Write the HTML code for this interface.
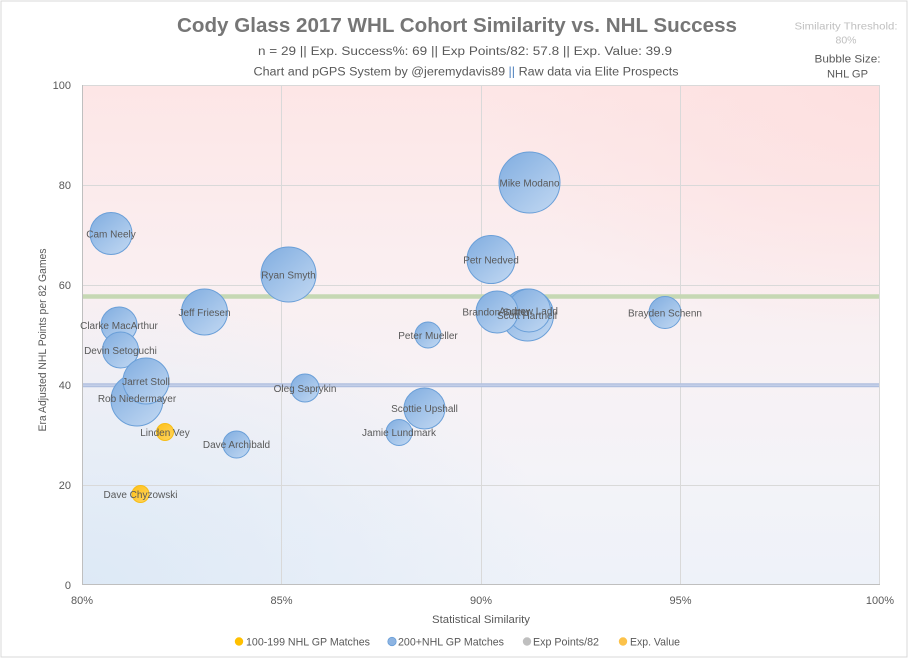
<!DOCTYPE html>
<html><head><meta charset="utf-8"><style>
html,body{margin:0;padding:0;background:#fff;}
svg{display:block;font-family:"Liberation Sans",sans-serif;}
</style></head><body>
<svg width="909" height="659" viewBox="0 0 909 659" xmlns="http://www.w3.org/2000/svg">
<defs>
<linearGradient id="bg" x1="0" y1="0" x2="0" y2="1">
<stop offset="0" stop-color="#fde6e6"/>
<stop offset="0.35" stop-color="#faeef0"/>
<stop offset="0.6" stop-color="#f7f2f5"/>
<stop offset="0.8" stop-color="#f3f3f8"/>
<stop offset="1" stop-color="#eef2f9"/>
</linearGradient>
<radialGradient id="blueTint" cx="0" cy="1" r="0.6">
<stop offset="0" stop-color="#dde9f6" stop-opacity="1"/>
<stop offset="1" stop-color="#dde9f6" stop-opacity="0"/>
</radialGradient>
<radialGradient id="pinkTint" cx="1" cy="0" r="0.5">
<stop offset="0" stop-color="#fde0e0" stop-opacity="1"/>
<stop offset="1" stop-color="#fde0e0" stop-opacity="0"/>
</radialGradient>
<linearGradient id="bub" x1="0.15" y1="0.1" x2="0.85" y2="0.9">
<stop offset="0" stop-color="#88b2e2"/>
<stop offset="1" stop-color="#bad3f0"/>
</linearGradient>
<linearGradient id="yel" x1="0.15" y1="0.1" x2="0.85" y2="0.9">
<stop offset="0" stop-color="#ffc21f"/>
<stop offset="1" stop-color="#ffd256"/>
</linearGradient>
</defs>

<rect x="1" y="1" width="906" height="656" fill="#fff" stroke="#d9d9d9" stroke-width="1"/>

<!-- plot background -->
<rect x="82" y="85" width="798" height="500" fill="url(#bg)"/>
<rect x="82" y="85" width="798" height="500" fill="url(#blueTint)"/>
<rect x="82" y="85" width="798" height="500" fill="url(#pinkTint)"/>

<!-- gridlines -->
<g stroke="#d9d9d9" stroke-width="1">
<line x1="82" y1="185.5" x2="880" y2="185.5"/>
<line x1="82" y1="285.5" x2="880" y2="285.5"/>
<line x1="82" y1="385.5" x2="880" y2="385.5"/>
<line x1="82" y1="485.5" x2="880" y2="485.5"/>
<line x1="281.5" y1="85" x2="281.5" y2="585"/>
<line x1="481.5" y1="85" x2="481.5" y2="585"/>
<line x1="680.5" y1="85" x2="680.5" y2="585"/>
<line x1="82" y1="85.5" x2="880" y2="85.5"/>
<line x1="879.5" y1="85" x2="879.5" y2="585"/>
</g>
<g stroke="#bfbfbf" stroke-width="1">
<line x1="82.5" y1="85" x2="82.5" y2="585"/>
<line x1="82" y1="584.5" x2="880" y2="584.5"/>
</g>

<!-- reference lines -->
<line x1="83" y1="296.5" x2="879" y2="296.5" stroke="#c6d8b4" stroke-width="4.5"/>
<line x1="83" y1="385.3" x2="879" y2="385.3" stroke="#b0bfdf" stroke-width="4"/>
<line x1="83" y1="385.3" x2="879" y2="385.3" stroke="#c3cfe8" stroke-width="1.5"/>

<!-- bubbles -->
<g stroke="#6a9fd8" stroke-width="1" fill="url(#bub)">
<circle cx="529.5" cy="182.5" r="30.5"/>
<circle cx="111" cy="233.5" r="21"/>
<circle cx="288.5" cy="274.5" r="27.5"/>
<circle cx="491" cy="259.5" r="24"/>
<circle cx="204.5" cy="312" r="23"/>
<circle cx="119" cy="325" r="18"/>
<circle cx="120.5" cy="350" r="18"/>
<circle cx="137" cy="400" r="26"/>
<circle cx="146" cy="381" r="23"/>
<circle cx="428" cy="335" r="13"/>
<circle cx="527.5" cy="315" r="26"/>
<circle cx="529" cy="310.5" r="21.5"/>
<circle cx="497" cy="312" r="21"/>
<circle cx="665" cy="312.5" r="16"/>
<circle cx="305" cy="388" r="14"/>
<circle cx="424.5" cy="408.5" r="20.5"/>
<circle cx="399" cy="432.5" r="13"/>
<circle cx="236.5" cy="444.5" r="13.5"/>
</g>
<g stroke="#f6bd17" stroke-width="1" fill="url(#yel)">
<circle cx="165" cy="432" r="8.5"/>
<circle cx="140.5" cy="494" r="8.5"/>
</g>

<!-- bubble labels -->
<g font-size="10" fill="#595959" text-anchor="middle">
<text x="529.5" y="186.5">Mike Modano</text>
<text x="111" y="237.5">Cam Neely</text>
<text x="288.5" y="278.5">Ryan Smyth</text>
<text x="491" y="263.5">Petr Nedved</text>
<text x="204.5" y="316">Jeff Friesen</text>
<text x="119" y="329">Clarke MacArthur</text>
<text x="120.5" y="354">Devin Setoguchi</text>
<text x="146" y="385">Jarret Stoll</text>
<text x="137" y="402">Rob Niedermayer</text>
<text x="428" y="339">Peter Mueller</text>
<text x="496" y="315.5">Brandon Sutter</text>
<text x="527" y="319">Scott Hartnell</text>
<text x="528.5" y="314.5">Andrew Ladd</text>
<text x="665" y="316.5">Brayden Schenn</text>
<text x="305" y="392">Oleg Saprykin</text>
<text x="424.5" y="412">Scottie Upshall</text>
<text x="399" y="436">Jamie Lundmark</text>
<text x="236.5" y="448">Dave Archibald</text>
<text x="165" y="436">Linden Vey</text>
<text x="140.5" y="498">Dave Chyzowski</text>
</g>

<!-- y tick labels -->
<g font-size="11" fill="#595959" text-anchor="end">
<text x="71" y="89">100</text>
<text x="71" y="189">80</text>
<text x="71" y="289">60</text>
<text x="71" y="389">40</text>
<text x="71" y="489">20</text>
<text x="71" y="589">0</text>
</g>
<!-- x tick labels -->
<g font-size="11" fill="#595959" text-anchor="middle">
<text x="82" y="604">80%</text>
<text x="281.5" y="604">85%</text>
<text x="481" y="604">90%</text>
<text x="680.5" y="604">95%</text>
<text x="880" y="604">100%</text>
</g>

<!-- axis titles -->
<text x="481" y="623" font-size="11" fill="#595959" text-anchor="middle" textLength="98" lengthAdjust="spacingAndGlyphs">Statistical Similarity</text>
<text transform="translate(46,340) rotate(-90)" font-size="11" fill="#595959" text-anchor="middle" textLength="183" lengthAdjust="spacingAndGlyphs">Era Adjusted NHL Points per 82 Games</text>

<!-- titles -->
<text x="457" y="32" font-size="20" font-weight="bold" fill="#767676" text-anchor="middle" textLength="560" lengthAdjust="spacingAndGlyphs">Cody Glass 2017 WHL Cohort Similarity vs. NHL Success</text>
<text x="465" y="55" font-size="11.5" fill="#595959" text-anchor="middle" textLength="414" lengthAdjust="spacingAndGlyphs">n = 29 || Exp. Success%: 69 || Exp Points/82: 57.8 || Exp. Value: 39.9</text>
<text x="466" y="75.5" font-size="11.5" fill="#595959" text-anchor="middle" textLength="425" lengthAdjust="spacingAndGlyphs">Chart and pGPS System by @jeremydavis89 <tspan fill="#4f81bd">||</tspan> Raw data via Elite Prospects</text>

<text x="846" y="29.5" font-size="10.5" fill="#bfbfbf" text-anchor="middle" textLength="103" lengthAdjust="spacingAndGlyphs">Similarity Threshold:</text>
<text x="846" y="43.5" font-size="10.5" fill="#bfbfbf" text-anchor="middle">80%</text>
<text x="847.5" y="62.5" font-size="11" fill="#595959" text-anchor="middle" textLength="66" lengthAdjust="spacingAndGlyphs">Bubble Size:</text>
<text x="847.5" y="77.5" font-size="11" fill="#595959" text-anchor="middle" textLength="41" lengthAdjust="spacingAndGlyphs">NHL GP</text>

<!-- legend -->
<circle cx="239" cy="641.5" r="4.2" fill="#ffc000"/>
<text x="246" y="645.5" font-size="11" fill="#595959" textLength="124" lengthAdjust="spacingAndGlyphs">100-199 NHL GP Matches</text>
<circle cx="392" cy="641.5" r="4.2" fill="#8db4e2" stroke="#6a9fd8" stroke-width="0.8"/>
<text x="398" y="645.5" font-size="11" fill="#595959" textLength="106" lengthAdjust="spacingAndGlyphs">200+NHL GP Matches</text>
<circle cx="527" cy="641.5" r="4.2" fill="#bfbfbf"/>
<text x="533" y="645.5" font-size="11" fill="#595959" textLength="66" lengthAdjust="spacingAndGlyphs">Exp Points/82</text>
<circle cx="623" cy="641.5" r="4.2" fill="#fcc24a"/>
<text x="630" y="645.5" font-size="11" fill="#595959" textLength="50" lengthAdjust="spacingAndGlyphs">Exp. Value</text>
</svg>
</body></html>
